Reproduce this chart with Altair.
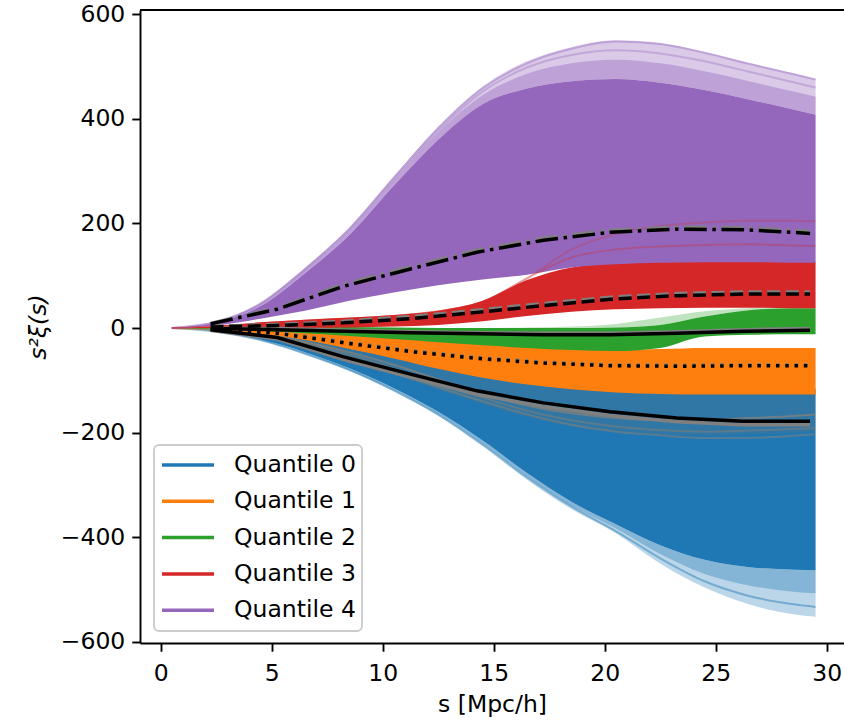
import altair as alt
import pandas as pd

# ---------------- data ----------------
S = [0.5, 2.5, 4.5, 6.5, 8.5, 10.5, 12.5, 14.5, 16.5, 18.5, 20.5, 22.5, 24.5, 26.5, 28.5, 29.5]
M = [2.25, 5.25, 8.25, 11.25, 14.25, 17.25, 20.25, 23.25, 26.25, 29.25]

NAMES = ["Quantile 0", "Quantile 1", "Quantile 2", "Quantile 3", "Quantile 4"]
COLORS = ["#1f77b4", "#ff7f0e", "#2ca02c", "#d62728", "#9467bd"]

# Quantile 0 (blue)
q0_top = [0, -2, -7, -15, -27, -40, -55, -68, -80, -92, -102, -108, -112, -115, -116, -116]
q0_low = [0, -6, -22, -46, -77, -115, -160, -215, -277, -332, -375, -415, -443, -457, -462, -463]
q0_faint_low = [0, -7, -24, -50, -82, -121, -168, -226, -290, -346, -392, -450, -496, -528, -547, -552]
q0_mid_low = [0, -6, -23, -48, -80, -118, -164, -220, -283, -339, -383, -432, -470, -492, -504, -507]
q0_line_a = [0, -7, -23, -49, -80, -119, -165, -222, -285, -341, -388, -440, -484, -512, -528, -533]

# Quantile 1 (orange)
q1_top = [0, -1, -4, -8, -13, -18, -24, -30, -36, -40, -42, -40, -38, -38, -38, -38]
q1_low = [0, -3, -11, -23, -40, -58, -78, -95, -108, -117, -123, -126, -127, -127, -127, -127]
q1_faint_low = [0, -4, -15, -33, -58, -88, -118, -145, -170, -188, -198, -203, -205, -203, -200, -198]
q1_line_a = [0, -3, -12, -26, -46, -70, -98, -125, -148, -163, -172, -176, -176, -172, -168, -165]
q1_line_b = [0, -4, -14, -31, -55, -84, -113, -140, -165, -185, -198, -205, -210, -210, -206, -203]
q1_line_c = [0, -4, -13, -28, -50, -77, -106, -133, -158, -176, -188, -195, -198, -196, -193, -191]

# Quantile 2 (green)
q2_top = [0, 1, 2, 2, 2, 1, 0, 0, 0, 0, 1, 6, 22, 34, 38, 38]
q2_faint_top = [0, 1, 2, 2, 2, 1, 0, 0, 1, 3, 8, 20, 32, 38, 40, 40]
q2_low = [0, -2, -5, -10, -15, -21, -27, -33, -38, -42, -44, -38, -16, -13, -12, -12]

# Quantile 3 (red)
q3_top = [0, 4, 11, 16, 20, 25, 33, 52, 92, 116, 124, 127, 128, 128, 127, 127]
q3_low = [0, 0, 0, 0, 1, 3, 6, 13, 23, 31, 36, 38, 39, 39, 38, 38]
q3_line_a = [0, 3, 9, 14, 18, 23, 32, 50, 95, 135, 150, 156, 159, 160, 158, 157]
q3_line_b = [0, 3, 9, 14, 18, 23, 32, 50, 95, 150, 180, 195, 202, 205, 205, 204]

# Quantile 4 (purple)
q4_faint_top = [0, 12, 48, 115, 192, 290, 385, 462, 510, 537, 550, 545, 528, 507, 487, 476]
q4_mid_top = [0, 11, 45, 110, 185, 281, 374, 445, 486, 506, 513, 506, 491, 472, 452, 442]
q4_top = [0, 10, 42, 105, 178, 272, 360, 428, 458, 472, 476, 469, 455, 437, 418, 408]
q4_low = [0, 5, 18, 33, 52, 68, 82, 93, 102, 116, 122, 125, 126, 126, 125, 125]
q4_line_a = [0, 12, 47, 113, 190, 287, 382, 458, 506, 534, 548, 543, 526, 505, 485, 475]
q4_line_b = [0, 11, 46, 111, 187, 283, 377, 452, 498, 522, 531, 525, 510, 490, 470, 460]

# mean curves (black) and second estimate (gray)
q0_mean = [-3, -18, -55, -88, -120, -143, -160, -172, -178, -178]
q0_alt = [-4, -21, -60, -94, -127, -150, -167, -179, -185, -185]
q1_mean = [-2, -10, -28, -45, -58, -67, -72, -73, -72, -72]
q1_alt = [-1, -8, -26, -43, -56, -65, -70, -71, -70, -70]
q2_mean = [-1, -3, -6, -9, -11, -13, -13, -10, -6, -4]
q2_alt = [0, -1, -4, -7, -9, -10, -10, -7, -3, -1]
q3_mean = [2, 5, 10, 18, 30, 43, 55, 62, 65, 65]
q3_alt = [3, 7, 13, 22, 34, 47, 59, 66, 69, 69]
q4_mean = [8, 36, 80, 113, 145, 168, 183, 189, 188, 181]
q4_alt = [9, 38, 84, 117, 149, 172, 187, 193, 192, 185]

X_TICKS = [0, 5, 10, 15, 20, 25, 30]
Y_TICKS = [-600, -400, -200, 0, 200, 400, 600]

# ---------------- helpers ----------------
FONT = "DejaVu Sans"
W, H = 704, 633
xscale = alt.Scale(domain=[-0.93, 30.78], nice=False, zero=False)
yscale = alt.Scale(domain=[-602, 608], nice=False, zero=False)
xaxis = alt.Axis(values=X_TICKS, title="s [Mpc/h]", grid=False, labelFlush=False)
yaxis = alt.Axis(values=Y_TICKS, title="s²ξ(s)", grid=False, titleFontStyle="italic")


def xenc():
    return alt.X("s:Q", scale=xscale, axis=xaxis)


def yenc(field):
    return alt.Y(field + ":Q", scale=yscale, axis=yaxis)


def band(lo, hi, color, opacity):
    df = pd.DataFrame({"s": S, "lo": lo, "hi": hi})
    return alt.Chart(df).mark_area(interpolate="monotone", color=color, opacity=opacity).encode(
        x=xenc(), y=yenc("lo"), y2="hi:Q",
    )


def faint_line(vals, color, opacity, width=2.0):
    df = pd.DataFrame({"s": S, "v": vals})
    return alt.Chart(df).mark_line(interpolate="monotone", color=color, opacity=opacity,
                                   strokeWidth=width).encode(x=xenc(), y=yenc("v"))


def mean_line(vals, color, dash, width=3.5):
    df = pd.DataFrame({"s": M, "v": vals})
    kw = dict(color=color, strokeWidth=width)
    if dash:
        kw["strokeDash"] = dash
    return alt.Chart(df).mark_line(**kw).encode(x=xenc(), y=yenc("v"))


# legend carrier layer (lies under the bands and mean lines)
means_all = [q0_mean, q1_mean, q2_mean, q3_mean, q4_mean]
leg_df = pd.DataFrame({
    "s": M * 5,
    "v": sum(means_all, []),
    "q": sum([[n] * len(M) for n in NAMES], []),
})
legend_layer = alt.Chart(leg_df).mark_line(strokeWidth=2).encode(
    x=xenc(), y=yenc("v"),
    color=alt.Color("q:N", scale=alt.Scale(domain=NAMES, range=COLORS),
                    legend=alt.Legend(orient="none", legendX=14, legendY=435, title=None,
                                      symbolType="stroke", symbolSize=2704, symbolStrokeWidth=3.5,
                                      symbolOpacity=1, labelFont=FONT, labelFontSize=23.5,
                                      labelColor="black", labelOffset=18, clipHeight=28,
                                      rowPadding=8.3, padding=6, fillColor="white",
                                      strokeColor="#cccccc", cornerRadius=5)),
)

# top spine
top_spine = alt.Chart(pd.DataFrame({"k": [0]})).mark_rule(color="black", strokeWidth=1.9).encode(
    x=alt.value(0), x2=alt.value(W), y=alt.value(0)
)

layers = [legend_layer]

# Quantile 0
layers += [band(q0_faint_low, q0_low, COLORS[0], 0.3), band(q0_mid_low, q0_low, COLORS[0], 0.35),
           band(q0_low, q0_top, COLORS[0], 1.0), faint_line(q0_line_a, COLORS[0], 0.45)]
# Quantile 1
layers += [band(q1_faint_low, q1_low, COLORS[1], 0.08), band(q1_low, q1_top, COLORS[1], 1.0),
           faint_line(q1_line_a, "#b8875a", 0.45), faint_line(q1_line_b, "#b8875a", 0.35),
           faint_line(q1_line_c, "#c08050", 0.3)]
# Quantile 2
layers += [band(q2_top, q2_faint_top, COLORS[2], 0.3), band(q2_low, q2_top, COLORS[2], 1.0)]
# Quantile 3
layers += [band(q3_low, q3_top, COLORS[3], 1.0)]
# Quantile 4
layers += [band(q4_top, q4_faint_top, COLORS[4], 0.35), band(q4_top, q4_mid_top, COLORS[4], 0.4),
           band(q4_low, q4_top, COLORS[4], 1.0),
           faint_line(q4_line_a, COLORS[4], 0.4), faint_line(q4_line_b, COLORS[4], 0.35)]
# red streaks seen through the purple
layers += [faint_line(q3_line_a, COLORS[3], 0.3), faint_line(q3_line_b, COLORS[3], 0.25)]

# mean curves: gray then black
DASH = [13, 5.6]
DOT = [3.5, 5.8]
DASHDOT = [22.6, 5.6, 3.5, 5.6]
styles = [None, DOT, None, DASH, DASHDOT]
alts = [q0_alt, q1_alt, q2_alt, q3_alt, q4_alt]
for i in range(5):
    layers.append(mean_line(alts[i], "#808080", styles[i]))
    layers.append(mean_line(means_all[i], "black", styles[i]))

layers.append(top_spine)

chart = alt.layer(*layers).properties(
    width=W, height=H,
    padding={"left": 140, "top": 10, "right": 0, "bottom": 78},
    autosize="none",
    background="white",
).configure_view(stroke=None).configure_axis(
    domainColor="black", domainWidth=1.9, tickColor="black", tickWidth=1.9, tickSize=8.2,
    labelFont=FONT, labelFontSize=23.5, labelColor="black", labelPadding=7,
    titleFont=FONT, titleFontSize=23.5, titleFontWeight="normal", titleColor="black",
).configure_axisX(titlePadding=8, labelPadding=10).configure_axisY(titlePadding=10).configure_legend(
    strokeWidth=1.9
)

chart.save("out.html", embed_options={"renderer": "svg", "actions": False})
